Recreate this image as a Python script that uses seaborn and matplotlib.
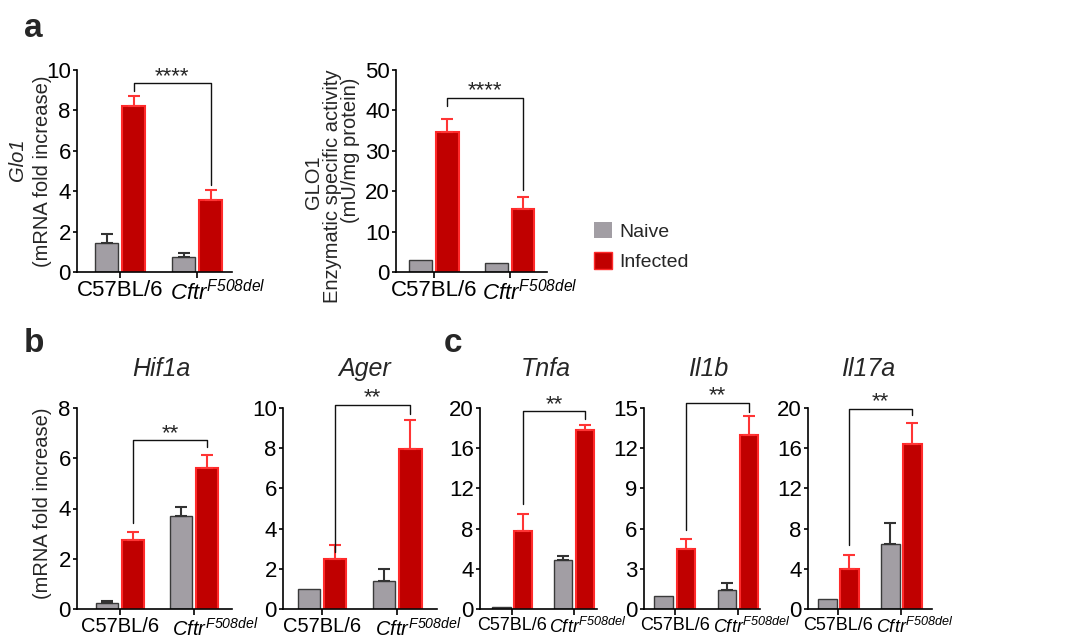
import numpy as np
import pandas as pd
import matplotlib
matplotlib.use("Agg")
import matplotlib.pyplot as plt
import matplotlib.transforms as mtransforms
from matplotlib.patches import Patch
import seaborn as sns

# ---------------- data ----------------
strains = ["C57BL/6", "CftrF508del"]
strain_labels = ["C57BL/6", r"$\mathit{Cftr}^{\mathit{F508del}}$"]
conditions = ["Naive", "Infected"]

# a: Glo1 mRNA
glo1_naive = [1.46, 0.75]
glo1_naive_err = [0.44, 0.21]
glo1_inf = [8.22, 3.55]
glo1_inf_err = [0.50, 0.50]
glo1_bracket = [8.95, 9.35, 4.30]

# a: GLO1 enzymatic activity
glo1act_naive = [3.0, 2.2]
glo1act_naive_err = [0.0, 0.0]
glo1act_inf = [34.6, 15.5]
glo1act_inf_err = [3.2, 3.1]
glo1act_bracket = [41.0, 43.1, 20.2]

# b: Hif1a
hif1a_naive = [0.24, 3.72]
hif1a_naive_err = [0.09, 0.35]
hif1a_inf = [2.75, 5.63]
hif1a_inf_err = [0.33, 0.49]
hif1a_bracket = [3.41, 6.72, 6.46]

# b: Ager
ager_naive = [0.99, 1.37]
ager_naive_err = [0.0, 0.61]
ager_inf = [2.48, 7.95]
ager_inf_err = [0.68, 1.44]
ager_bracket = [2.86, 10.17, 9.72]

# c: Tnfa
tnfa_naive = [0.2, 4.89]
tnfa_naive_err = [0.0, 0.43]
tnfa_inf = [7.77, 17.85]
tnfa_inf_err = [1.68, 0.43]
tnfa_bracket = [10.45, 19.67, 18.94]

# c: Il1b
il1b_naive = [0.99, 1.39]
il1b_naive_err = [0.0, 0.54]
il1b_inf = [4.49, 12.97]
il1b_inf_err = [0.72, 1.41]
il1b_bracket = [5.9, 15.37, 14.7]

# c: Il17a
il17a_naive = [0.99, 6.45]
il17a_naive_err = [0.0, 2.15]
il17a_inf = [3.97, 16.46]
il17a_inf_err = [1.42, 2.09]
il17a_bracket = [6.38, 19.93, 19.27]

# ---------------- style ----------------
sns.set_theme(style="ticks")
plt.rcParams["font.family"] = ["Liberation Sans", "DejaVu Sans"]
plt.rcParams["mathtext.fontset"] = "custom"
# the only math text is the italic strain label, so all math glyphs italic
plt.rcParams["mathtext.rm"] = "Liberation Sans:italic"
plt.rcParams["mathtext.it"] = "Liberation Sans:italic"
plt.rcParams["mathtext.bf"] = "Liberation Sans:bold"
plt.rcParams["mathtext.sf"] = "Liberation Sans:italic"

GRAY = "#a29ea4"
GRAY_EDGE = "#3a3a3a"
RED = "#c00000"
RED_EDGE = "#ff2a2a"
ERR_NAIVE = "#333333"
ERR_INF = "#ff3535"

W, H = 1070, 644
fig = plt.figure(figsize=(W / 100, H / 100), dpi=100)


def add_ax(l, r, t, b):
    return fig.add_axes([l / W, 1 - b / H, (r - l) / W, (b - t) / H])


def panel(box, naive, naive_err, inf, inf_err, bracket, stars, ymax, ystep,
          xlim, xfs, cftr_dx):
    ax = add_ax(*box)
    df = pd.DataFrame({
        "strain": strains * 2,
        "condition": ["Naive"] * 2 + ["Infected"] * 2,
        "value": list(naive) + list(inf),
    })
    sns.barplot(data=df, x="strain", y="value", hue="condition",
                order=strains, hue_order=conditions,
                palette={"Naive": GRAY, "Infected": RED},
                width=0.7, gap=0.15, errorbar=None, legend=False, ax=ax,
                saturation=1)
    cont_naive, cont_inf = ax.containers[0], ax.containers[1]
    for b in cont_naive:
        b.set_edgecolor(GRAY_EDGE)
        b.set_linewidth(1.0)
    for b in cont_inf:
        b.set_edgecolor(RED_EDGE)
        b.set_linewidth(1.5)
    for cont, errs, col in [(cont_naive, naive_err, ERR_NAIVE),
                            (cont_inf, inf_err, ERR_INF)]:
        xs, ys, es = [], [], []
        for b, e in zip(cont, errs):
            if e > 0:
                xs.append(b.get_x() + b.get_width() / 2)
                ys.append(b.get_height())
                es.append(e)
        if xs:
            ax.errorbar(xs, ys, yerr=[np.zeros(len(es)), es], fmt="none",
                        ecolor=col, elinewidth=1.5, capsize=4.5,
                        capthick=1.5, zorder=1)
    x0 = cont_inf[0].get_x() + cont_inf[0].get_width() / 2
    x1 = cont_inf[1].get_x() + cont_inf[1].get_width() / 2
    ax.plot([x0, x0, x1, x1], [bracket[0], bracket[1], bracket[1], bracket[2]],
            color="#111111", lw=1.0, clip_on=False)
    ax.annotate(stars, xy=((x0 + x1) / 2, bracket[1]), xytext=(0, 1),
                textcoords="offset points", ha="center", va="baseline",
                fontsize=16, annotation_clip=False)
    ax.set_ylim(0, ymax)
    ax.set_yticks(np.arange(0, ymax + 1e-9, ystep))
    ax.set_xlim(*xlim)
    ax.set_xlabel("")
    ax.set_ylabel("")
    sns.despine(ax=ax)
    for s in ["left", "bottom"]:
        ax.spines[s].set_linewidth(1.2)
        ax.spines[s].set_color("black")
    ax.tick_params(axis="y", length=3, width=1.2, pad=1.5, labelsize=16,
                   colors="black")
    ax.tick_params(axis="x", length=4.5, width=1.2, pad=1.5, labelsize=xfs,
                   colors="black")
    ax.set_xticks([0, 1])
    ax.set_xticklabels(strain_labels)
    labs = ax.get_xticklabels()
    labs[1].set_transform(labs[1].get_transform() +
                          mtransforms.ScaledTranslation(cftr_dx / 100, 0,
                                                        fig.dpi_scale_trans))
    return ax


# top row
panel((77, 232, 70, 272), glo1_naive, glo1_naive_err, glo1_inf, glo1_inf_err,
      glo1_bracket, "****", 10, 2, (-0.56, 1.45), 16, 20)
panel((396, 547, 70, 272), glo1act_naive, glo1act_naive_err, glo1act_inf,
      glo1act_inf_err, glo1act_bracket, "****", 50, 10, (-0.5, 1.49), 16, 20)
# b
panel((77, 232, 408, 609), hif1a_naive, hif1a_naive_err, hif1a_inf,
      hif1a_inf_err, hif1a_bracket, "**", 8, 2, (-0.58, 1.51), 14.5, 21)
panel((283, 437, 408, 609), ager_naive, ager_naive_err, ager_inf,
      ager_inf_err, ager_bracket, "**", 10, 2, (-0.52, 1.53), 14.5, 21)
# c
panel((480, 597, 408, 609), tnfa_naive, tnfa_naive_err, tnfa_inf,
      tnfa_inf_err, tnfa_bracket, "**", 20, 4, (-0.52, 1.37), 13, 14)
panel((644, 760, 408, 609), il1b_naive, il1b_naive_err, il1b_inf,
      il1b_inf_err, il1b_bracket, "**", 15, 3, (-0.49, 1.35), 13, 14)
panel((808, 932, 408, 609), il17a_naive, il17a_naive_err, il17a_inf,
      il17a_inf_err, il17a_bracket, "**", 20, 4, (-0.48, 1.49), 13, 14)


def ftext(x, y, s, **kw):
    fig.text(x / W, 1 - y / H, s, **kw)


# panel letters
ftext(24, 37, "a", fontsize=24, fontweight="bold", va="baseline")
ftext(24, 352, "b", fontsize=24, fontweight="bold", va="baseline")
ftext(444, 352, "c", fontsize=24, fontweight="bold", va="baseline")

# titles
for x, t in [(161, "Hif1a"), (365, "Ager"), (546, "Tnfa"), (708, "Il1b"),
             (868, "Il17a")]:
    ftext(x, 376, t, fontsize=18, style="italic", ha="center", va="baseline")

# y labels
lab_kw = dict(fontsize=14.5, rotation=90, ha="center", va="center")
ftext(17, 160, "Glo1", style="italic", **lab_kw)
ftext(43, 171, "(mRNA fold increase)", **lab_kw)
ftext(313, 182, "GLO1", **lab_kw)
ftext(332, 186, "Enzymatic specific activity", **lab_kw)
ftext(350, 150, "(mU/mg protein)", **lab_kw)
ftext(43, 503, "(mRNA fold increase)", **lab_kw)

# legend
handles = [Patch(facecolor=GRAY, edgecolor="none"),
           Patch(facecolor=RED, edgecolor=RED_EDGE, linewidth=1.0)]
fig.legend(handles, conditions, loc="upper left",
           bbox_to_anchor=(594 / W, 1 - 222 / H), frameon=False, fontsize=14,
           handlelength=0.9, handleheight=0.9, handletextpad=0.4,
           labelspacing=0.6, borderpad=0, borderaxespad=0)

fig.savefig("out.png", dpi=100, facecolor="white")
